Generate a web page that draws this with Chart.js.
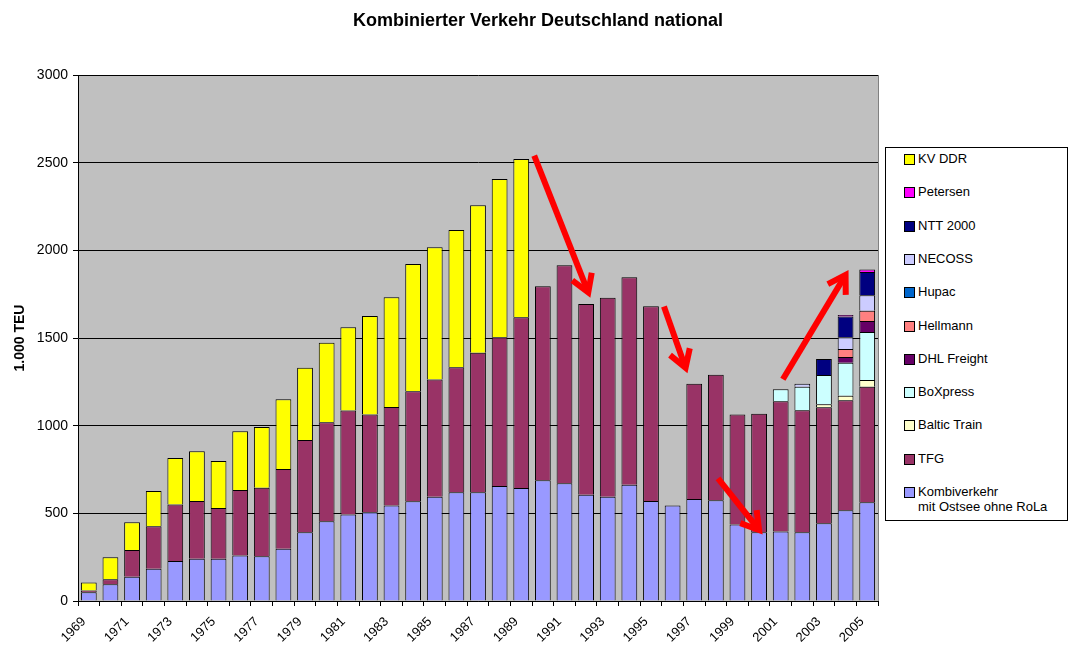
<!DOCTYPE html>
<html>
<head>
<meta charset="utf-8">
<script src="https://cdn.jsdelivr.net/npm/chart.js@4.4.1/dist/chart.umd.min.js"></script>
<style>
  html, body { margin: 0; padding: 0; background: #fff; }
  #wrap { position: relative; width: 1069px; height: 646px; }
  #title {
    position: absolute; left: 0; top: 10px; width: 1076px; text-align: center;
    font-family: "Liberation Sans", Arial, sans-serif; font-size: 18px; font-weight: bold; color: #000;
  }
  #legend {
    position: absolute; left: 885px; top: 147px; width: 183px; height: 374px;
    border: 1px solid #000; background: #fff; box-sizing: border-box;
    font-family: "Liberation Sans", Arial, sans-serif; font-size: 13px; color: #000;
  }
  .item { position: absolute; left: 18px; line-height: 15px; }
  .sw { position: absolute; left: 0; top: 3px; width: 9px; height: 9px; border: 1px solid #000; }
  .lbl { margin-left: 14px; white-space: nowrap; }
</style>
</head>
<body>
<div id="wrap">
  <canvas id="c" width="1069" height="646"></canvas>
  <div id="title">Kombinierter Verkehr Deutschland national</div>
  <div id="legend"></div>
</div>
<script>
const years = [];
for (let y = 1969; y <= 2005; y++) years.push(String(y));

const kombiverkehr = [50, 95, 139, 184, 228, 241, 241, 260, 255, 298, 392, 455, 494, 506, 544, 569, 595, 620, 620, 656, 644, 688, 671, 606, 595, 663, 570, 544, 582, 574, 437, 392, 397, 392, 443, 517, 563];
const tfg = [10, 29, 152, 242, 323, 329, 289, 373, 391, 455, 526, 564, 592, 557, 562, 627, 669, 713, 796, 848, 974, 1107, 1244, 1088, 1135, 1183, 1111, 0, 657, 717, 626, 676, 742, 696, 662, 628, 659];
const balticTrain = Array(34).fill(0).concat([17, 26, 39]);
const boxpress = Array(32).fill(0).concat([68, 134, 167, 188, 273]);
const dhlFreight = Array(35).fill(0).concat([33, 63]);
const hellmann = Array(35).fill(0).concat([45, 59]);
const hupac = Array(37).fill(0);
const necoss = Array(33).fill(0).concat([17, 0, 67, 88]);
const ntt2000 = Array(34).fill(0).concat([91, 118, 133]);
const petersen = Array(35).fill(0).concat([9, 13]);
const kvDdr = [45, 125, 158, 201, 265, 284, 268, 335, 346, 397, 412, 454, 475, 562, 626, 726, 753, 783, 841, 903, 903].concat(Array(16).fill(0));

const yTicks = [0, 500, 1000, 1500, 2000, 2500, 3000];

// arrows: [fromIndex, fromValue, toIndex, toValue]
const arrows = [
  [20.6, 2540, 23.1, 1760],
  [26.6, 1680, 27.6, 1330],
  [29.1, 700, 31.0, 405],
  [32.1, 1265, 35.0, 1860]
];

const series = [
  { label: "Kombiverkehr\nmit Ostsee ohne RoLa", data: kombiverkehr, color: "#9999FF" },
  { label: "TFG", data: tfg, color: "#993366" },
  { label: "Baltic  Train", data: balticTrain, color: "#FFFFCC" },
  { label: "BoXpress", data: boxpress, color: "#CCFFFF" },
  { label: "DHL Freight", data: dhlFreight, color: "#660066" },
  { label: "Hellmann", data: hellmann, color: "#FF8080" },
  { label: "Hupac", data: hupac, color: "#0066CC" },
  { label: "NECOSS", data: necoss, color: "#CCCCFF" },
  { label: "NTT 2000", data: ntt2000, color: "#000080" },
  { label: "Petersen", data: petersen, color: "#FF00FF" },
  { label: "KV DDR", data: kvDdr, color: "#FFFF00" }
];

const plotBg = {
  id: "plotBg",
  beforeDraw(chart) {
    const { ctx, chartArea: a } = chart;
    ctx.save();
    ctx.fillStyle = "#C0C0C0";
    ctx.fillRect(a.left, a.top, a.right - a.left, a.bottom - a.top);
    ctx.restore();
  },
  afterDraw(chart) {
    const { ctx, chartArea: a } = chart;
    ctx.save();
    ctx.strokeStyle = "#808080";
    ctx.lineWidth = 1;
    ctx.beginPath();
    ctx.moveTo(a.right + 0.5, a.top);
    ctx.lineTo(a.right + 0.5, a.bottom);
    ctx.stroke();
    ctx.restore();
  }
};

const arrowPlugin = {
  id: "arrows",
  afterDatasetsDraw(chart) {
    const { ctx, scales: { x, y } } = chart;
    ctx.save();
    ctx.strokeStyle = "#FF0000";
    ctx.lineWidth = 6;
    ctx.lineCap = "butt";
    ctx.lineJoin = "miter";
    arrows.forEach(([i0, v0, i1, v1]) => {
      const x0 = x.getPixelForValue(i0), y0 = y.getPixelForValue(v0);
      const x1 = x.getPixelForValue(i1), y1 = y.getPixelForValue(v1);
      const ang = Math.atan2(y1 - y0, x1 - x0);
      ctx.beginPath();
      ctx.moveTo(x0, y0);
      ctx.lineTo(x1 - 2 * Math.cos(ang), y1 - 2 * Math.sin(ang));
      ctx.stroke();
      const h = 20;
      ctx.beginPath();
      ctx.moveTo(x1 - h * Math.cos(ang - 0.55), y1 - h * Math.sin(ang - 0.55));
      ctx.lineTo(x1, y1);
      ctx.lineTo(x1 - h * Math.cos(ang + 0.55), y1 - h * Math.sin(ang + 0.55));
      ctx.stroke();
    });
    ctx.restore();
  }
};

const ctx = document.getElementById("c").getContext("2d");
new Chart(ctx, {
  type: "bar",
  data: {
    labels: years,
    datasets: series.map(s => ({
      label: s.label,
      data: s.data.map(v => v || null),
      backgroundColor: s.color,
      borderColor: "#000",
      borderWidth: 1,
      barPercentage: 0.73,
      categoryPercentage: 1,
      stack: "s"
    }))
  },
  options: {
    responsive: false,
    animation: false,
    layout: { padding: { left: 0, right: 191, top: 75, bottom: 0 } },
    plugins: {
      legend: { display: false },
      tooltip: { enabled: false },
      title: { display: false }
    },
    scales: {
      x: {
        stacked: true,
        grid: { display: true, drawOnChartArea: false, offset: true, color: "#000", tickLength: 5 },
        border: { color: "#000" },
        ticks: {
          autoSkip: false,
          maxRotation: 45,
          minRotation: 45,
          color: "#000",
          padding: 8,
          labelOffset: -5,
          font: { family: "Liberation Sans", size: 13 },
          callback: function (val, idx) { return idx % 2 === 0 ? this.getLabelForValue(val) : ""; }
        },
        afterFit: (s) => { s.height = 45; }
      },
      y: {
        stacked: true,
        min: 0,
        max: 3000,
        afterBuildTicks: (s) => { s.ticks = yTicks.map(v => ({ value: v })); },
        grid: { color: "#000", tickLength: 5 },
        border: { color: "#000" },
        ticks: {
          color: "#000",
          padding: 5,
          font: { family: "Liberation Sans", size: 14 },
          callback: (v) => String(v)
        },
        title: { display: true, text: "1.000 TEU", color: "#000", font: { family: "Liberation Sans", size: 14, weight: "bold" }, padding: { top: 12, bottom: 0 } },
        afterFit: (s) => { s.width = 78; }
      }
    }
  },
  plugins: [plotBg, arrowPlugin]
});

// legend, top to bottom = reverse of stacking order
const leg = document.getElementById("legend");
series.slice().reverse().forEach((s, k) => {
  const d = document.createElement("div");
  d.className = "item";
  d.style.top = (3 + k * 33.3) + "px";
  const sw = document.createElement("span");
  sw.className = "sw";
  sw.style.background = s.color;
  const t = document.createElement("div");
  t.className = "lbl";
  t.innerHTML = s.label.split("\n").join("<br>");
  d.appendChild(sw);
  d.appendChild(t);
  leg.appendChild(d);
});
</script>
</body>
</html>
